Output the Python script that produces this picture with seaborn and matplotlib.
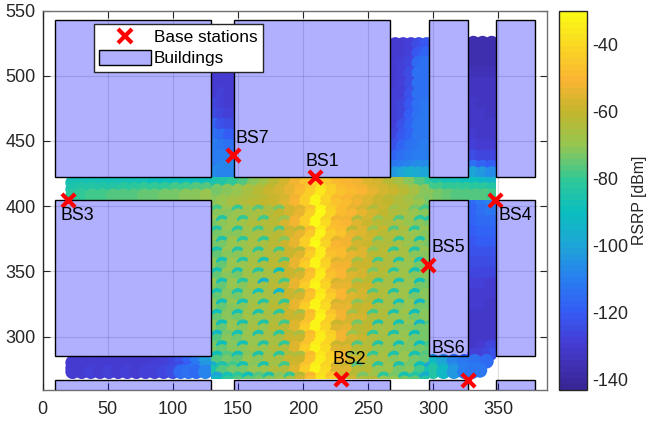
import matplotlib
matplotlib.use("Agg")
import matplotlib.pyplot as plt
import seaborn as sns
import pandas as pd
from matplotlib.colors import LinearSegmentedColormap, Normalize
from matplotlib.cm import ScalarMappable
from matplotlib.lines import Line2D
from matplotlib.patches import Patch, Rectangle

# ---------- data ----------
bs_names = ["BS1", "BS2", "BS3", "BS4", "BS5", "BS6", "BS7"]
bs_x = [209, 229.5, 19.5, 347.5, 296, 327, 146.5]
bs_y = [422, 267.5, 405, 405, 355, 267, 439.5]
bs_label_x = [202, 223, 14, 350, 298.5, 299, 148]
bs_label_y = [428, 276, 386, 386, 361.5, 284.5, 445]

buildings_x0 = [9.2, 146.8, 296.6, 348, 9.2, 296.6, 348, 9.2, 146.8, 296.6, 348]
buildings_x1 = [129, 267, 326.8, 378, 129, 326.8, 378, 129, 267, 326.8, 378]
buildings_y0 = [422.5, 422.5, 422.5, 422.5, 285, 285, 285, 255, 255, 255, 255]
buildings_y1 = [542.5, 542.5, 542.5, 542.5, 404.7, 404.7, 404.7, 266.6, 266.6, 266.6, 266.6]

# open area between the buildings, staggered rows: ripple crests and the level between them
plaza_x = [130, 138, 146, 154, 162, 170, 178, 186, 194, 202, 210, 218, 226, 234, 242, 250, 258, 266, 274, 282, 290, 298]
plaza_y = [420, 412, 404, 396, 388, 380, 372, 364, 356, 348, 340, 332, 324, 316, 308, 300, 292, 284, 276, 268]
plaza_crest = [
    [-88,-86,-84,-80,-76,-72,-66,-60,-54,-49,-44,-47,-49,-50,-52,-55,-59,-63,-67,-72,-78,-82],
    [-74,-72,-70,-67,-64,-61,-58,-54,-50,-45,-38,-44,-48,-50,-52,-55,-58,-61,-64,-68,-72,-76],
    [-72,-70,-68,-66,-64,-62,-60,-57,-52,-44,-33,-42,-48,-50,-53,-56,-60,-62,-65,-68,-72,-74],
    [-78,-70,-80,-68,-76,-66,-74,-58,-56,-46,-32,-44,-49,-54,-58,-64,-60,-68,-64,-74,-78,-74],
    [-70,-84,-70,-80,-66,-78,-62,-70,-52,-44,-31,-42,-52,-52,-64,-58,-70,-62,-76,-68,-82,-84],
    [-84,-70,-82,-68,-78,-64,-76,-60,-62,-48,-34,-46,-48,-62,-56,-70,-60,-76,-64,-82,-70,-76],
    [-72,-86,-68,-82,-66,-80,-62,-72,-54,-44,-32,-44,-54,-52,-66,-58,-74,-64,-80,-68,-86,-72],
    [-86,-70,-84,-68,-82,-64,-78,-60,-62,-46,-35,-48,-48,-62,-56,-72,-62,-80,-66,-84,-70,-88],
    [-72,-88,-70,-84,-66,-86,-62,-76,-54,-46,-33,-44,-56,-54,-68,-60,-78,-64,-84,-68,-88,-72],
    [-88,-70,-86,-68,-84,-66,-90,-60,-64,-48,-36,-48,-50,-64,-58,-74,-62,-82,-68,-88,-72,-84],
    [-70,-88,-70,-84,-68,-94,-64,-78,-54,-46,-34,-44,-58,-56,-70,-62,-80,-66,-86,-70,-90,-74],
    [-88,-72,-86,-70,-88,-66,-92,-60,-66,-48,-36,-46,-50,-66,-58,-76,-64,-84,-68,-90,-72,-88],
    [-72,-90,-70,-88,-68,-84,-64,-80,-54,-46,-33,-42,-58,-56,-72,-62,-82,-66,-88,-70,-92,-74],
    [-90,-72,-88,-68,-86,-66,-82,-60,-66,-48,-34,-46,-52,-68,-60,-78,-64,-86,-68,-90,-72,-88],
    [-72,-90,-70,-86,-68,-84,-64,-78,-56,-46,-33,-44,-60,-58,-74,-62,-84,-66,-88,-70,-92,-76],
    [-92,-74,-88,-70,-86,-66,-82,-62,-66,-48,-36,-44,-52,-70,-62,-80,-66,-86,-70,-90,-74,-88],
    [-74,-90,-72,-88,-70,-84,-66,-80,-56,-46,-34,-42,-60,-60,-76,-64,-84,-68,-88,-72,-90,-78],
    [-90,-76,-88,-72,-86,-68,-82,-64,-66,-48,-36,-44,-52,-70,-62,-80,-66,-86,-70,-88,-76,-92],
    [-96,-86,-78,-88,-72,-86,-68,-78,-58,-46,-34,-42,-58,-60,-76,-64,-82,-68,-86,-74,-90,-100],
    [-100,-88,-82,-90,-76,-86,-72,-80,-62,-50,-38,-46,-58,-62,-74,-68,-82,-74,-88,-84,-96,-106],
]
plaza_level = [
    [-86,-84,-80,-76,-72,-68,-63,-58,-52,-47,-42,-45,-48,-50,-52,-55,-58,-62,-66,-71,-76,-80],
    [-73,-71,-69,-66,-63,-60,-57,-53,-49,-44,-36,-43,-47,-49,-51,-54,-57,-60,-63,-67,-71,-75],
    [-71,-69,-67,-65,-63,-61,-59,-56,-51,-43,-33,-41,-47,-49,-52,-55,-59,-61,-64,-67,-70,-73],
    [-72,-71,-70,-68,-66,-64,-61,-58,-53,-44,-31,-42,-48,-50,-54,-58,-61,-64,-66,-69,-71,-72],
    [-73,-72,-70,-68,-65,-65,-62,-58,-52,-43,-30,-40,-48,-51,-56,-59,-62,-64,-67,-69,-71,-73],
    [-74,-72,-71,-68,-67,-65,-63,-58,-54,-45,-33,-44,-47,-53,-55,-60,-62,-65,-66,-70,-71,-73],
    [-73,-74,-70,-69,-67,-66,-62,-60,-53,-43,-31,-42,-50,-52,-58,-59,-64,-65,-67,-69,-72,-73],
    [-75,-71,-72,-68,-68,-65,-64,-59,-56,-44,-34,-46,-48,-54,-56,-62,-63,-67,-67,-71,-71,-74],
    [-72,-75,-70,-70,-67,-67,-63,-61,-54,-44,-32,-42,-52,-52,-59,-60,-65,-65,-69,-69,-73,-73],
    [-75,-71,-73,-68,-69,-66,-65,-59,-57,-46,-35,-46,-50,-55,-57,-62,-64,-68,-68,-72,-71,-74],
    [-71,-75,-70,-71,-67,-68,-63,-62,-54,-44,-33,-42,-53,-53,-60,-60,-66,-66,-70,-70,-73,-73],
    [-75,-72,-73,-69,-70,-66,-66,-60,-58,-46,-35,-44,-50,-56,-57,-63,-65,-69,-68,-73,-72,-74],
    [-72,-75,-71,-71,-67,-68,-63,-63,-54,-44,-32,-40,-54,-53,-61,-60,-67,-67,-71,-70,-74,-74],
    [-75,-72,-73,-68,-70,-66,-65,-60,-59,-46,-33,-44,-52,-57,-58,-64,-65,-70,-69,-73,-72,-74],
    [-72,-75,-70,-71,-67,-69,-63,-63,-55,-44,-32,-42,-55,-54,-62,-61,-68,-67,-71,-71,-74,-74],
    [-76,-72,-74,-69,-70,-66,-66,-60,-59,-46,-35,-42,-52,-58,-59,-65,-66,-70,-70,-73,-73,-74],
    [-73,-75,-71,-72,-68,-69,-64,-64,-55,-44,-33,-40,-55,-55,-63,-62,-69,-68,-71,-71,-74,-75],
    [-77,-73,-75,-70,-71,-67,-67,-60,-60,-46,-35,-42,-52,-58,-59,-66,-66,-71,-70,-73,-75,-80],
    [-86,-76,-73,-73,-69,-70,-65,-64,-56,-44,-33,-40,-55,-56,-63,-62,-69,-68,-73,-72,-78,-88],
    [-92,-80,-76,-75,-73,-71,-68,-66,-58,-46,-36,-44,-56,-58,-64,-63,-70,-70,-74,-75,-84,-94],
]

west_street_x = [23, 30, 38, 46, 54, 62, 70, 78, 86, 94, 102, 110, 118, 126]
west_street_y = [418, 413, 408]
west_street_rsrp = [
    [-87,-87,-87,-87,-87,-87,-88,-88,-89,-89,-90,-90,-90,-90],
    [-85,-84,-84,-83,-83,-82,-82,-81,-80,-80,-79,-78,-77,-76],
    [-82,-80,-79,-78,-77,-76,-76,-75,-75,-74,-73,-72,-71,-70],
]

east_street_x = [298, 305, 312, 319, 326, 333, 340, 346]
east_street_y = [418, 413, 408]
east_street_rsrp = [
    [-84,-86,-87,-88,-89,-90,-92,-94],
    [-78,-79,-80,-80,-81,-82,-82,-84],
    [-72,-74,-75,-76,-77,-77,-76,-78],
]

s7_x = [132, 138, 144]
s7_y = [510, 502, 494, 486, 478, 470, 462, 454, 446, 438, 430, 425]
s7_rsrp = [
    [-129,-129,-129], [-129,-129,-129], [-129,-129,-129], [-129,-128,-129],
    [-127,-128,-129], [-124,-127,-128], [-118,-122,-125], [-113,-116,-120],
    [-111,-112,-114], [-110,-110,-111], [-110,-109,-109], [-106,-108,-108],
]

n2_x = [271, 277, 283, 289, 295]
n2_y = [524, 517, 510, 502, 494, 486, 478, 470, 462, 454, 446, 438, 430, 425]
n2_rsrp = [
    [-129,-129,-128,-125,-121], [-129,-129,-128,-121,-117], [-129,-128,-126,-116,-114],
    [-129,-128,-125,-114,-113], [-129,-128,-125,-114,-113], [-128,-128,-123,-113,-113],
    [-128,-127,-121,-113,-112], [-128,-126,-119,-113,-112], [-128,-123,-118,-112,-112],
    [-127,-121,-118,-112,-112], [-123,-118,-114,-112,-111], [-118,-114,-112,-110,-110],
    [-112,-110,-108,-106,-106], [-104,-100,-96,-98,-100],
]

n3_x = [331, 338, 345]
n3_y = [525, 518, 510, 502, 494, 486, 478, 470, 462, 454, 446, 438, 430, 425]
n3_rsrp = [
    [-137,-137,-137], [-137,-137,-137], [-136,-136,-136], [-135,-135,-135],
    [-134,-134,-134], [-133,-133,-134], [-132,-133,-133], [-132,-132,-133],
    [-131,-132,-132], [-130,-131,-131], [-128,-129,-130], [-124,-126,-127],
    [-114,-118,-120], [-100,-104,-106],
]

s4_x = [331, 338, 345]
s4_y = [404, 396, 388, 380, 372, 364, 356, 348, 340, 332, 324, 316, 308, 300, 292]
s4_rsrp = [
    [-116,-112,-108], [-117,-114,-112], [-118,-116,-115], [-119,-118,-118],
    [-121,-120,-120], [-123,-122,-123], [-125,-124,-125], [-127,-127,-127],
    [-128,-128,-129], [-129,-129,-130], [-130,-130,-131], [-131,-131,-132],
    [-131,-132,-132], [-131,-132,-132], [-131,-129,-127],
]

corner_x = [344, 338, 332, 300, 308, 316, 324, 332, 341, 300, 308, 316, 324, 332, 336, 300, 308, 316, 324, 330]
corner_y = [287, 287, 287, 281, 281, 281, 281, 281, 281, 275, 275, 275, 275, 275, 274, 273, 273, 273, 273, 273]
corner_rsrp = [-122, -126, -128, -92, -100, -108, -112, -114, -116, -88, -98, -106, -110, -112, -112, -84, -92, -104, -110, -112]

s5_x = [23, 30, 37, 44, 51, 58, 65, 72, 79, 86, 93, 100, 106, 112, 118, 125]
s5_y = [280, 276, 273]
s5_rsrp = [
    [-129,-129,-129,-129,-129,-129,-129,-129,-129,-129,-128,-126,-123,-118,-110,-102],
    [-129,-129,-129,-129,-129,-129,-129,-129,-129,-128,-128,-126,-124,-120,-112,-104],
    [-129,-129,-128,-129,-128,-129,-128,-129,-128,-128,-126,-124,-116,-114,-116,-108],
]

cbar_rsrp = [-143, -130, -120, -110, -100, -90, -80, -70, -60, -50, -40, -30]
cbar_rgb = [(56, 38, 150), (70, 60, 210), (52, 92, 245), (40, 128, 240), (30, 165, 215),
            (10, 190, 190), (50, 200, 150), (148, 198, 82), (195, 182, 45), (250, 180, 50),
            (250, 215, 35), (250, 250, 20)]
x_ticks = [0, 50, 100, 150, 200, 250, 300, 350]
y_ticks = [300, 350, 400, 450, 500, 550]
cbar_ticks = [-140, -120, -100, -80, -60, -40]

# ---------- styling ----------
sns.set_style("white")
plt.rcParams["font.family"] = ["Liberation Sans", "DejaVu Sans"]
plt.rcParams["axes.unicode_minus"] = False
INK = "#262626"
W, H = 647, 422
low, high = cbar_rsrp[0], cbar_rsrp[-1]
norm = Normalize(low, high)
parula = LinearSegmentedColormap.from_list(
    "parula_like",
    [((v - low) / (high - low), tuple(c / 255 for c in rgb)) for v, rgb in zip(cbar_rsrp, cbar_rgb)],
    N=64,
)

fig = plt.figure(figsize=(W / 100, H / 100), dpi=100)
ax = fig.add_axes([42.7 / W, 1 - 390 / H, (546.7 - 42.7) / W, (390 - 10.5) / H])
cax = fig.add_axes([558.7 / W, 1 - 390 / H, (587 - 558.7) / W, (390 - 10.5) / H])
ax.set_xlim(0, 387.3)
ax.set_ylim(259, 550)


def draw_cells(rows, clip, size):
    """Scatter RSRP readings in the given order, clipped to the street they belong to."""
    before = len(ax.collections)
    sns.scatterplot(data=pd.DataFrame(rows), x="x", y="y", hue="rsrp", palette=parula,
                    hue_norm=norm, s=size, linewidth=0, legend=False, ax=ax, zorder=2)
    for coll in ax.collections[before:]:
        coll.set_clip_path(Rectangle((clip[0], clip[1]), clip[2] - clip[0], clip[3] - clip[1],
                                     transform=ax.transData))


def table_rows(xs, ys, table):
    return [{"x": x, "y": y, "rsrp": v} for y, line in zip(ys, table) for x, v in zip(xs, line)]


draw_cells(table_rows(s7_x, s7_y, s7_rsrp), (129, 422, 146.8, 540), 110)
draw_cells(table_rows(n2_x, n2_y, n2_rsrp), (267, 422, 296.6, 540), 110)
draw_cells(table_rows(n3_x, n3_y, n3_rsrp), (326.8, 422, 348, 540), 110)
draw_cells(table_rows(s4_x, s4_y, s4_rsrp), (326.8, 284, 348, 405), 110)
draw_cells(table_rows(s5_x, s5_y, s5_rsrp), (9, 267.5, 130, 285), 110)
draw_cells(table_rows(west_street_x, west_street_y, west_street_rsrp), (9, 404.7, 131, 422.5), 110)
draw_cells(table_rows(east_street_x, east_street_y, east_street_rsrp), (296, 404.7, 348, 422.5), 110)
draw_cells([{"x": x, "y": y, "rsrp": v} for x, y, v in zip(corner_x, corner_y, corner_rsrp)],
           (296.6, 267.5, 348.6, 291), 110)

plaza_rows = []
for j, y in enumerate(plaza_y):
    shift = 4 if j % 2 else 0
    plaza_rows += [{"x": x + shift, "y": y, "rsrp": v} for x, v in zip(plaza_x, plaza_crest[j])]
    plaza_rows += [{"x": x + shift, "y": y - 3, "rsrp": v} for x, v in zip(plaza_x, plaza_level[j])]
draw_cells(plaza_rows, (129, 267.5, 297, 422.5), 95)

for x0, x1, y0, y1 in zip(buildings_x0, buildings_x1, buildings_y0, buildings_y1):
    ax.add_patch(Rectangle((x0, y0), x1 - x0, y1 - y0, facecolor=(0, 0, 1, 0.31),
                           edgecolor="black", linewidth=1.0, zorder=3))

sns.scatterplot(x=bs_x, y=bs_y, marker="x", color="red", s=90, linewidth=3, legend=False,
                ax=ax, zorder=5, clip_on=False)
for name, lx, ly in zip(bs_names, bs_label_x, bs_label_y):
    ax.text(lx, ly, name, fontsize=12.8, color="black", va="bottom", ha="left", zorder=6)

ax.set_xticks(x_ticks)
ax.set_yticks(y_ticks)
ax.grid(True, color=INK, alpha=0.15, linewidth=0.8)
ax.set_axisbelow(True)
ax.tick_params(axis="x", direction="in", top=True, bottom=True, length=5, width=0.8,
               labelsize=13, colors=INK, pad=8)
ax.tick_params(axis="y", direction="in", left=True, right=True, length=5, width=0.8,
               labelsize=13, colors=INK, pad=5)
ax.set_xlabel("")
ax.set_ylabel("")
for side, spine in ax.spines.items():
    spine.set_color(INK if side == "left" else "#707070")
    spine.set_linewidth(1.0)

leg = ax.legend(
    handles=[
        Line2D([], [], marker="x", color="red", linestyle="none", markersize=9.5, markeredgewidth=3),
        Patch(facecolor=(0, 0, 1, 0.31), edgecolor="black", linewidth=1.0),
    ],
    labels=["Base stations", "Buildings"],
    loc="upper left",
    bbox_to_anchor=(93.7 / W, 1 - 23.7 / H),
    bbox_transform=fig.transFigure,
    borderaxespad=0, fancybox=False, framealpha=1, edgecolor="#262626",
    fontsize=12.4, handlelength=3.05, handleheight=1.0, handletextpad=0.15,
    borderpad=0.3, labelspacing=0.25,
)
leg.get_frame().set_linewidth(1.0)
leg.set_zorder(7)
for t in leg.get_texts():
    t.set_color("black")

cb = fig.colorbar(ScalarMappable(norm=norm, cmap=parula), cax=cax)
cb.set_ticks(cbar_ticks)
cb.ax.tick_params(direction="in", length=5, width=0.8, labelsize=13, colors=INK, pad=4, right=True)
cb.outline.set_edgecolor(INK)
cb.outline.set_linewidth(1.0)
cb.set_label("RSRP [dBm]", fontsize=11.4, color=INK, labelpad=2.5)

fig.savefig("out.png", dpi=100)
